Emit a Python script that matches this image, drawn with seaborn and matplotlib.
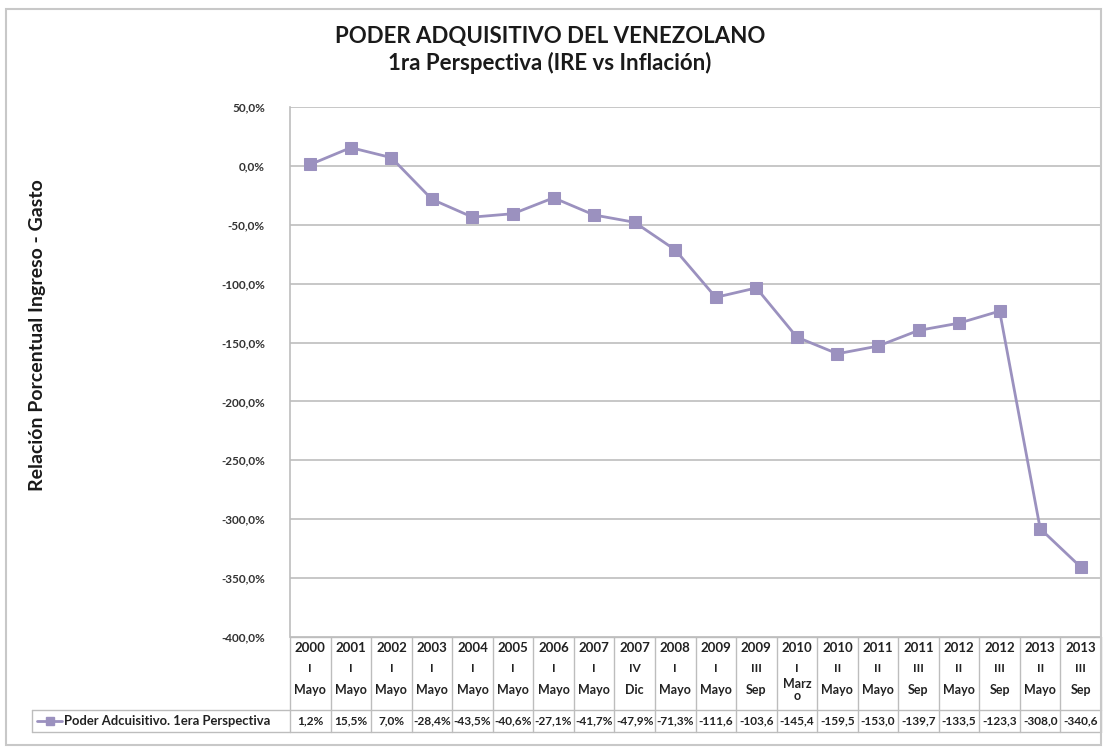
import numpy as np
import pandas as pd
import matplotlib
matplotlib.use("Agg")
import matplotlib.pyplot as plt
import seaborn as sns
from matplotlib.lines import Line2D
from matplotlib.patches import Rectangle

# data
years = ["2000", "2001", "2002", "2003", "2004", "2005", "2006", "2007", "2007", "2008",
         "2009", "2009", "2010", "2010", "2011", "2011", "2012", "2012", "2013", "2013"]
quarters = ["I", "I", "I", "I", "I", "I", "I", "I", "IV", "I",
            "I", "III", "I", "II", "II", "III", "II", "III", "II", "III"]
months = ["Mayo", "Mayo", "Mayo", "Mayo", "Mayo", "Mayo", "Mayo", "Mayo", "Dic", "Mayo",
          "Mayo", "Sep", "Marz\no", "Mayo", "Mayo", "Sep", "Mayo", "Sep", "Mayo", "Sep"]
poder = [1.2, 15.5, 7.0, -28.4, -43.5, -40.6, -27.1, -41.7, -47.9, -71.3,
         -111.6, -103.6, -145.4, -159.5, -153.0, -139.7, -133.5, -123.3, -308.0, -340.6]
value_labels = ["1,2%", "15,5%", "7,0%", "-28,4%", "-43,5%", "-40,6%", "-27,1%", "-41,7%",
                "-47,9%", "-71,3%", "-111,6", "-103,6", "-145,4", "-159,5", "-153,0",
                "-139,7", "-133,5", "-123,3", "-308,0", "-340,6"]
serie = "Poder Adcuisitivo. 1era Perspectiva"

sns.set_style("white")
plt.rcParams['font.family'] = ['Lato', 'DejaVu Sans']

line_color = "#9b91bf"
grid_color = "#bdbdbd"
txt = "#222222"

df = pd.DataFrame({"pos": np.arange(len(poder)), "valor": poder})

fig = plt.figure(figsize=(11.06, 7.51), dpi=100)
W, H = 1106, 751
ax = fig.add_axes([290 / W, 1 - 637 / H, (1101 - 290) / W, (637 - 107) / H])

sns.lineplot(data=df, x="pos", y="valor", ax=ax, color=line_color, linewidth=2,
             marker="s", markersize=9, markeredgecolor=line_color)

ax.set_xlim(-0.5, len(poder) - 0.5)
ax.set_ylim(-400, 50)
yt = np.arange(-400, 51, 50)
ax.set_yticks(yt)
ax.set_yticklabels([f"{v:.1f}%".replace(".", ",") for v in yt], fontsize=8.5,
                   fontweight="bold", color="#333333")
ax.set_xticks([])
ax.set_xlabel("")
ax.set_ylabel("")
ax.yaxis.grid(True, color=grid_color, linewidth=1.2)
ax.tick_params(axis="y", length=0, pad=18)
for s in ["top", "right", "bottom"]:
    ax.spines[s].set_visible(False)
ax.spines["left"].set_color(grid_color)
ax.spines["left"].set_linewidth(1.2)

# data table under the plot
tr = ax.get_xaxis_transform()
ph = 637 - 107


def yax(py):
    return -(py - 637) / ph


table_top = yax(637)
head_bot = yax(710)
table_bot = yax(732)
n = len(poder)
for i in range(n + 1):
    ax.add_line(Line2D([i - 0.5, i - 0.5], [table_top, table_bot], transform=tr,
                       color=grid_color, lw=1, clip_on=False))
for yy in [table_top, head_bot, table_bot]:
    ax.add_line(Line2D([-0.5, n - 0.5], [yy, yy], transform=tr,
                       color=grid_color, lw=1, clip_on=False))
for i in range(n):
    ax.text(i, yax(648), years[i], transform=tr, ha="center", va="center",
            fontsize=9.5, fontweight="bold", color=txt, clip_on=False)
    ax.text(i, yax(668), quarters[i], transform=tr, ha="center", va="center",
            fontsize=8.5, fontweight="bold", color=txt, clip_on=False)
    ax.text(i, yax(690), months[i], transform=tr, ha="center", va="center",
            fontsize=9, fontweight="bold", color=txt, clip_on=False,
            linespacing=1.0)
    ax.text(i, yax(721), value_labels[i], transform=tr, ha="center", va="center",
            fontsize=8.6, fontweight="bold", color=txt, clip_on=False)

# legend cell of the table
lx0 = (32 - 290) / (1101 - 290)
ax.add_line(Line2D([lx0, 0], [head_bot, head_bot], transform=ax.transAxes,
                   color=grid_color, lw=1, clip_on=False))
ax.add_line(Line2D([lx0, 0], [table_bot, table_bot], transform=ax.transAxes,
                   color=grid_color, lw=1, clip_on=False))
ax.add_line(Line2D([lx0, lx0], [head_bot, table_bot], transform=ax.transAxes,
                   color=grid_color, lw=1, clip_on=False))
kx0 = (37 - 290) / (1101 - 290)
kx1 = (62 - 290) / (1101 - 290)
ax.add_line(Line2D([kx0, kx1], [yax(721)] * 2, transform=ax.transAxes, color=line_color,
                   lw=2, clip_on=False))
ax.add_line(Line2D([(kx0 + kx1) / 2], [yax(721)], transform=ax.transAxes, color=line_color,
                   marker="s", markersize=6, clip_on=False))
ax.text((64 - 290) / (1101 - 290), yax(721), serie, transform=ax.transAxes, ha="left",
        va="center", fontsize=9.4, fontweight="bold", color=txt, clip_on=False)

fig.text(550 / W, 1 - 37 / H, "PODER ADQUISITIVO DEL VENEZOLANO", ha="center", va="center",
         fontsize=16, fontweight="bold", color="#1a1a1a")
fig.text(550 / W, 1 - 63 / H, "1ra Perspectiva (IRE vs Inflación)", ha="center", va="center",
         fontsize=16, fontweight="bold", color="#1a1a1a")
fig.text(38 / W, 1 - 335 / H, "Relación Porcentual Ingreso - Gasto", rotation=90,
         ha="center", va="center", fontsize=14, fontweight="bold", color="#1a1a1a")

# outer chart border
fig.add_artist(Rectangle((6 / W, 1 - 745 / H), (1101 - 6) / W, (745 - 9) / H,
                         transform=fig.transFigure, fill=False, edgecolor="#c8c8c8", lw=1.5))

fig.savefig("out.png", dpi=100)
